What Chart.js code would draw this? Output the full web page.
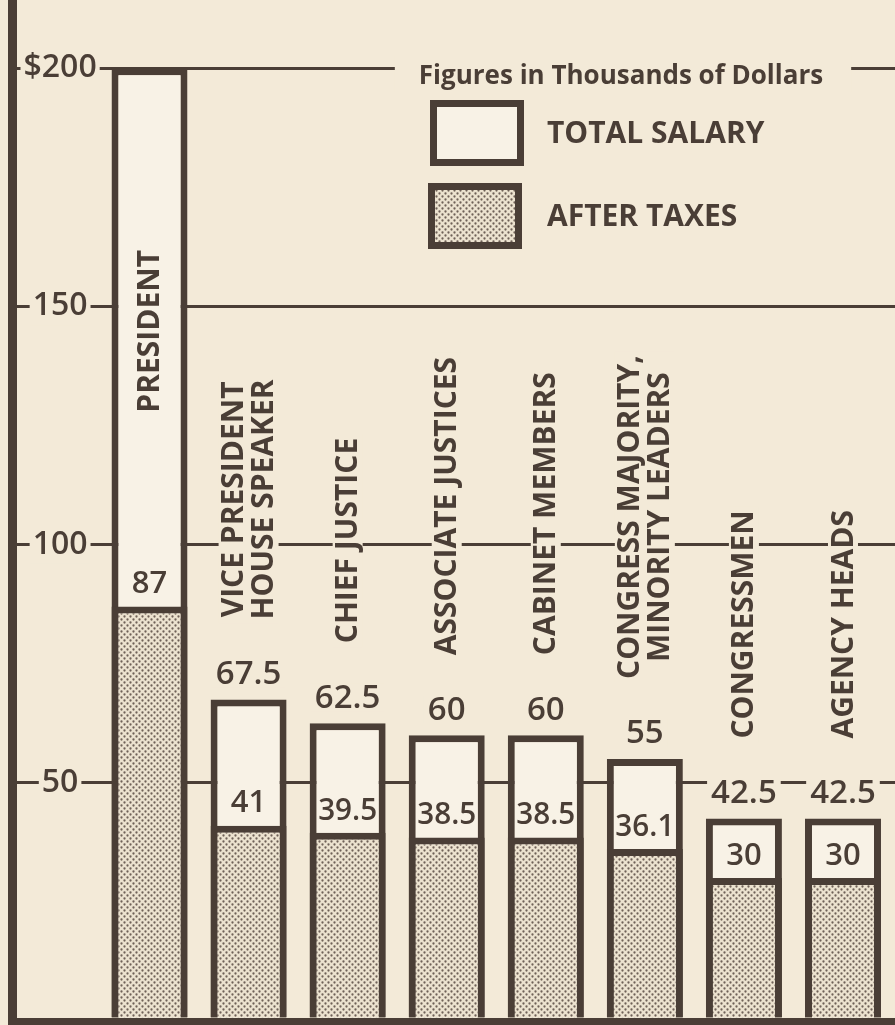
<!DOCTYPE html>
<html>
<head>
<meta charset="utf-8">
<script src="https://cdn.jsdelivr.net/npm/chart.js@4.4.1/dist/chart.umd.min.js"></script>
<style>
  html, body { margin: 0; padding: 0; background: #f3ead8; }
  #wrap { width: 895px; height: 1025px; }
</style>
</head>
<body>
<div id="wrap"><canvas id="chart" width="895" height="1025"></canvas></div>
<script>
// values (thousands of dollars)
const categories = [
  'PRESIDENT',
  ['VICE PRESIDENT', 'HOUSE SPEAKER'],
  'CHIEF JUSTICE',
  'ASSOCIATE JUSTICES',
  'CABINET MEMBERS',
  ['CONGRESS MAJORITY,', 'MINORITY LEADERS'],
  'CONGRESSMEN',
  'AGENCY HEADS'
];
const totalSalary = [200, 67.5, 62.5, 60, 60, 55, 42.5, 42.5];
const afterTaxes = [87, 41, 39.5, 38.5, 38.5, 36.1, 30, 30];
const yTickValues = [50, 100, 150, 200];
const yTickLabels = ['50', '100', '150', '$200'];
const seriesNames = ['TOTAL SALARY', 'AFTER TAXES'];
const legendTitle = 'Figures in Thousands of Dollars';

const PAPER = '#f3ead8';
const INK = '#4a3e36';
const BAR = '#f8f2e6';
const FONT = "'Open Sans', 'DejaVu Sans', sans-serif";

// newsprint dot screen for the after-tax bars
function dotScreen() {
  const c = document.createElement('canvas');
  c.width = 6; c.height = 6;
  const g = c.getContext('2d');
  g.fillStyle = '#ece2cf';
  g.fillRect(0, 0, 6, 6);
  g.fillStyle = '#6f6158';
  [[1.5, 1.5], [4.5, 4.5]].forEach(([x, y]) => {
    g.beginPath(); g.arc(x, y, 1.15, 0, Math.PI * 2); g.fill();
  });
  return g.createPattern(c, 'repeat');
}
const DOTS = dotScreen();

const fmt = v => String(v);

// labels, values and legend are drawn on top of the bars
const annotate = {
  id: 'annotate',
  afterDatasetsDraw(chart) {
    const ctx = chart.ctx;
    const tot = chart.getDatasetMeta(0).data;
    const aft = chart.getDatasetMeta(1).data;
    ctx.save();
    ctx.textAlign = 'center';
    ctx.textBaseline = 'middle';

    categories.forEach((cat, i) => {
      const bt = tot[i], ba = aft[i];
      const lines = Array.isArray(cat) ? cat : [cat];
      ctx.font = `700 30px ${FONT}`;
      const maxW = Math.max(...lines.map(l => ctx.measureText(l).width));
      const lh = 30;
      let inside = false, cy;
      if (bt.y - 80 - maxW < 40) {
        inside = true;
        cy = (bt.y + ba.y) / 2 - 6;
      } else {
        cy = bt.y - 80 - maxW / 2;
      }
      ctx.save();
      ctx.translate(bt.x, cy);
      ctx.rotate(-Math.PI / 2);
      if (!inside) {
        ctx.fillStyle = PAPER;
        ctx.fillRect(-maxW / 2 - 4, -lines.length * lh / 2, maxW + 8, lines.length * lh);
      }
      ctx.fillStyle = INK;
      lines.forEach((l, k) => ctx.fillText(l, 0, (k - (lines.length - 1) / 2) * lh + 1));
      ctx.restore();

      if (!inside) {
        ctx.font = `600 33px ${FONT}`;
        const t = fmt(totalSalary[i]);
        const w = ctx.measureText(t).width;
        const y = bt.y - 26;
        ctx.fillStyle = PAPER;
        ctx.fillRect(bt.x - w / 2 - 4, y - 14, w + 8, 28);
        ctx.fillStyle = INK;
        ctx.fillText(t, bt.x, y + 1);
      }
      ctx.font = `600 31px ${FONT}`;
      ctx.fillStyle = INK;
      ctx.fillText(fmt(afterTaxes[i]), ba.x, ba.y - 22, ba.width - 17);
    });

    // legend
    ctx.font = `700 26px ${FONT}`;
    const tw = ctx.measureText(legendTitle).width;
    ctx.fillStyle = PAPER;
    ctx.fillRect(621 - tw / 2 - 24, 56, tw + 52, 36);
    ctx.fillStyle = INK;
    ctx.fillText(legendTitle, 621, 77);
    const ds = chart.data.datasets;
    [[430, 100], [428, 183]].forEach(([x, y], k) => {
      ctx.fillStyle = INK;
      ctx.fillRect(x, y, 94, 66);
      ctx.fillStyle = ds[k].backgroundColor;
      ctx.fillRect(x + 7, y + 7, 80, 52);
      ctx.textAlign = 'left';
      ctx.font = `700 30px ${FONT}`;
      ctx.fillStyle = INK;
      ctx.fillText(ds[k].label, 547, y + 34);
    });
    ctx.restore();
  }
};

new Chart(document.getElementById('chart'), {
  type: 'bar',
  data: {
    datasets: [{
      label: seriesNames[0],
      data: totalSalary.map((v, i) => ({ x: i, y: v })),
      backgroundColor: BAR,
      borderColor: INK,
      borderWidth: 7,
      grouped: false,
      order: 2,
      barThickness: 76,
      inflateAmount: 0
    }, {
      label: seriesNames[1],
      data: afterTaxes.map((v, i) => ({ x: i, y: v })),
      backgroundColor: DOTS,
      borderColor: INK,
      borderWidth: 7,
      grouped: false,
      order: 1,
      barThickness: 76,
      inflateAmount: 0
    }]
  },
  options: {
    responsive: false,
    animation: false,
    events: [],
    layout: { padding: { left: 12.5, right: 0, top: 0, bottom: 4 } },
    plugins: { legend: { display: false }, tooltip: { enabled: false } },
    scales: {
      x: {
        type: 'linear',
        display: false,
        offset: false,
        grid: { offset: false },
        bounds: 'data',
        min: -1.383,
        max: 7.525,
        ticks: { stepSize: 1, includeBounds: false }
      },
      y: {
        bounds: 'data',
        min: 0,
        max: 214.3,
        afterFit: s => { s.width = 0; s.paddingTop = 0; s.paddingBottom = 0; },
        border: { display: true, color: INK, width: 9 },
        grid: {
          color: INK,
          lineWidth: c => (c.tick && c.tick.value === 0 ? 7 : 3),
          drawTicks: false
        },
        ticks: {
          stepSize: 50,
          includeBounds: false,
          mirror: true,
          padding: 11,
          crossAlign: 'center',
          color: INK,
          font: { family: FONT, size: 32, weight: '600' },
          showLabelBackdrop: true,
          backdropColor: c => (c.tick && c.tick.value === 0 ? 'rgba(0,0,0,0)' : PAPER),
          backdropPadding: { x: 3, y: 0 },
          callback: v => {
            const k = yTickValues.indexOf(v);
            return k < 0 ? '' : yTickLabels[k];
          }
        }
      }
    }
  },
  plugins: [annotate]
});
</script>
</body>
</html>
